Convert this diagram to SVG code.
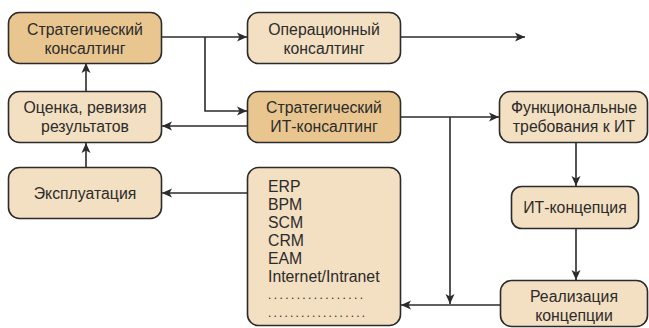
<svg xmlns="http://www.w3.org/2000/svg" width="649" height="328" viewBox="0 0 649 328">
  <style>
    .box { stroke: #2b2b2b; stroke-width: 1.6; }
    .dark { fill: #e9c690; }
    .light { fill: #f3dfc1; }
    .lbl { font-family: "Liberation Sans", Arial, sans-serif; font-size: 15.8px; fill: #2b2b2b; text-anchor: middle; }
    .lst { font-family: "Liberation Sans", Arial, sans-serif; font-size: 15.8px; fill: #2b2b2b; }
    .dots { font-family: "Liberation Sans", Arial, sans-serif; font-size: 12px; fill: #2b2b2b; }
    .ln { fill: none; stroke: #2b2b2b; stroke-width: 1.6; }
  </style>
  <defs>
    <marker id="arr" viewBox="0 0 10 10" refX="10" refY="5" markerWidth="10" markerHeight="10" markerUnits="userSpaceOnUse" orient="auto">
      <path d="M0,0.5 L10,5 L0,9.5 L2.5,5 Z" fill="#2b2b2b"/>
    </marker>
  </defs>
  <rect width="649" height="328" fill="#ffffff"/>

  <g id="strategic-consulting">
    <rect class="box dark" x="8.5" y="12.5" width="153" height="51" rx="11"/>
    <text class="lbl" x="85" y="35">Стратегический</text>
    <text class="lbl" x="85" y="54">консалтинг</text>
  </g>
  <g id="evaluation">
    <rect class="box light" x="8.5" y="91.5" width="153" height="51" rx="11"/>
    <text class="lbl" x="85" y="113">Оценка, ревизия</text>
    <text class="lbl" x="85" y="132">результатов</text>
  </g>
  <g id="operation">
    <rect class="box light" x="8.5" y="167.5" width="153" height="51" rx="11"/>
    <text class="lbl" x="85" y="199">Эксплуатация</text>
  </g>
  <g id="operational-consulting">
    <rect class="box light" x="247.5" y="12.5" width="153" height="51" rx="11"/>
    <text class="lbl" x="324" y="35">Операционный</text>
    <text class="lbl" x="324" y="54">консалтинг</text>
  </g>
  <g id="strategic-it-consulting">
    <rect class="box dark" x="247.5" y="91.5" width="153" height="51" rx="11"/>
    <text class="lbl" x="324" y="113">Стратегический</text>
    <text class="lbl" x="324" y="132">ИТ-консалтинг</text>
  </g>
  <g id="systems">
    <rect class="box light" x="247.5" y="167.5" width="153" height="158" rx="11"/>
    <text class="lst" x="268" y="192">ERP</text>
    <text class="lst" x="268" y="210">BPM</text>
    <text class="lst" x="268" y="228">SCM</text>
    <text class="lst" x="268" y="246">CRM</text>
    <text class="lst" x="268" y="264">EAM</text>
    <text class="lst" x="268" y="282">Internet/Intranet</text>
    <text class="dots" x="268" y="299" textLength="95" lengthAdjust="spacing">.................</text>
    <text class="dots" x="268" y="317" textLength="97" lengthAdjust="spacing">..................</text>
  </g>
  <g id="functional-requirements">
    <rect class="box light" x="499.5" y="91.5" width="148" height="51" rx="11"/>
    <text class="lbl" x="574" y="113">Функциональные</text>
    <text class="lbl" x="574" y="132">требования к ИТ</text>
  </g>
  <g id="it-concept">
    <rect class="box light" x="511.5" y="186.5" width="127" height="42" rx="10"/>
    <text class="lbl" x="575" y="213">ИТ-концепция</text>
  </g>
  <g id="implementation">
    <rect class="box light" x="500.5" y="280.5" width="147" height="46" rx="11"/>
    <text class="lbl" x="574" y="302">Реализация</text>
    <text class="lbl" x="574" y="321">концепции</text>
  </g>

  <g id="connectors">
    <path class="ln" d="M162,37 H247" marker-end="url(#arr)"/>
    <path class="ln" d="M205,37 V111 H247" marker-end="url(#arr)"/>
    <path class="ln" d="M401,37 H525" marker-end="url(#arr)"/>
    <path class="ln" d="M247,126 H162" marker-end="url(#arr)"/>
    <path class="ln" d="M401,117 H499" marker-end="url(#arr)"/>
    <path class="ln" d="M450,117 V304" marker-end="url(#arr)"/>
    <path class="ln" d="M500,305 H401" marker-end="url(#arr)"/>
    <path class="ln" d="M576,143 V186" marker-end="url(#arr)"/>
    <path class="ln" d="M576,229 V280" marker-end="url(#arr)"/>
    <path class="ln" d="M247,193 H162" marker-end="url(#arr)"/>
    <path class="ln" d="M86,167 V143" marker-end="url(#arr)"/>
    <path class="ln" d="M86,91 V63" marker-end="url(#arr)"/>
  </g>
</svg>
